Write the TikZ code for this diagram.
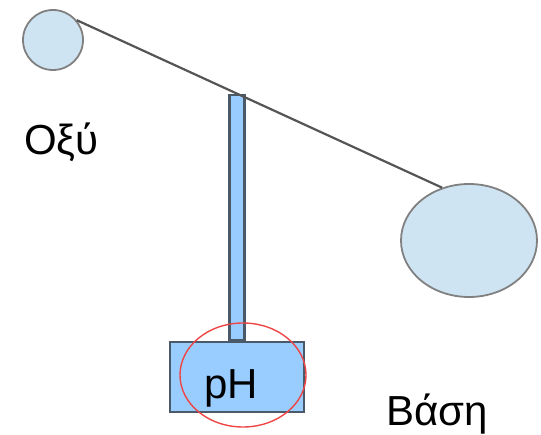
\documentclass[tikz,border=0pt]{standalone}
\usepackage{fontspec}
\setmainfont{Liberation Sans}
\usetikzlibrary{shapes.geometric}
\definecolor{ballfill}{RGB}{207,228,243}
\definecolor{ballline}{RGB}{128,128,128}
\definecolor{stemfill}{RGB}{153,204,255}
\definecolor{stemline}{RGB}{75,90,105}
\definecolor{rodline}{RGB}{85,85,85}
\definecolor{ringred}{RGB}{238,70,70}
\tikzset{
  ball/.style={ellipse, draw=ballline, fill=ballfill, line width=1.8pt, inner sep=0pt},
  partbox/.style={rectangle, draw=stemline, fill=stemfill, line width=2.2pt, inner sep=0pt},
  lbl/.style={font=\fontsize{42}{48}\selectfont, inner sep=0pt, anchor=base west},
}
\begin{document}
\begin{tikzpicture}[x=1pt,y=-1pt]
\useasboundingbox (0,0) rectangle (541,435);
\node[ball, minimum width=60pt, minimum height=60pt] (acid) at (53,40) {};
\node[ball, minimum width=136pt, minimum height=113pt] (base) at (469,240.5) {};
\node[partbox, minimum width=134pt, minimum height=70pt] (meter) at (237,377) {};
\node[partbox, minimum width=15pt, minimum height=245pt, anchor=south] (stem) at (meter.north) {};
\draw[rodline, line width=2.2pt] (acid.40) -- (base.117);
\node[ellipse, draw=ringred, line width=1.4pt, minimum width=126pt, minimum height=104pt, inner sep=0pt] (ring) at (243,375) {};
\node[lbl] (ph) at (204,399) {pH};
\node[lbl] (oxy) at (24,155) {Οξύ};
\node[lbl] (vasi) at (386,426) {Βάση};
\end{tikzpicture}
\end{document}
